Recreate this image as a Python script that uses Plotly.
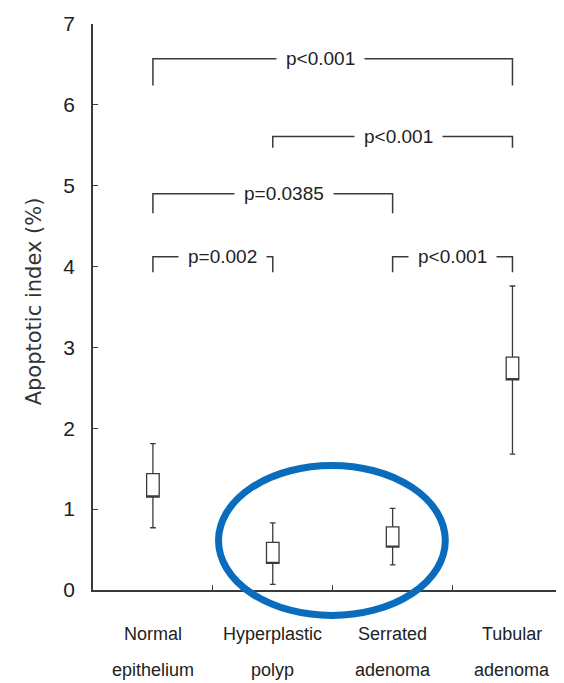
import plotly.graph_objects as go

# ---- data ----
cat_line1 = ["Normal", "Hyperplastic", "Serrated", "Tubular"]
cat_line2 = ["epithelium", "polyp", "adenoma", "adenoma"]
cat_pos = [0.5, 1.5, 2.5, 3.5]
box_low = [1.15, 0.33, 0.53, 2.60]
box_high = [1.44, 0.59, 0.78, 2.88]
whisker_low = [0.77, 0.07, 0.31, 1.68]
whisker_high = [1.81, 0.83, 1.01, 3.76]

# comparisons: (left category index, right category index, bracket height, drop, label)
cmp_left = [0, 1, 0, 0, 2]
cmp_right = [3, 3, 2, 1, 3]
cmp_height = [6.57, 5.61, 4.90, 4.12, 4.12]
cmp_drop = [0.33, 0.14, 0.24, 0.19, 0.19]
cmp_label = ["p<0.001", "p<0.001", "p=0.0385", "p=0.002", "p<0.001"]
cmp_label_x = [1.9, 2.55, 1.59, 1.08, 3.0]

y_ticks = [0, 1, 2, 3, 4, 5, 6, 7]

LINE = "#3a3a3a"
FONT = "Liberation Sans Narrow, Arial Narrow, Liberation Sans, sans-serif"

fig = go.Figure()

fig.add_trace(go.Box(
    x=cat_pos,
    q1=box_low,
    median=box_low,
    q3=box_high,
    lowerfence=whisker_low,
    upperfence=whisker_high,
    width=0.105,
    whiskerwidth=0.45,
    fillcolor="white",
    line=dict(color=LINE, width=1.3),
    boxpoints=False,
    showlegend=False,
))

for i in range(len(cmp_label)):
    xl = cat_pos[cmp_left[i]]
    xr = cat_pos[cmp_right[i]]
    h = cmp_height[i]
    d = cmp_drop[i]
    fig.add_trace(go.Scatter(
        x=[xl, xl, xr, xr],
        y=[h - d, h, h, h - d],
        mode="lines",
        line=dict(color=LINE, width=1.5),
        showlegend=False,
        hoverinfo="skip",
    ))
    fig.add_annotation(
        x=cmp_label_x[i], y=h, xref="x", yref="y",
        text=cmp_label[i], showarrow=False,
        font=dict(family=FONT, size=19, color="#222"),
        bgcolor="white", borderpad=9,
    )

for i in range(len(cat_pos)):
    fig.add_annotation(
        x=cat_pos[i], y=0, xref="x", yref="paper", yanchor="middle",
        yshift=-44, text=cat_line1[i], showarrow=False,
        font=dict(family=FONT, size=18, color="#222"),
    )
    fig.add_annotation(
        x=cat_pos[i], y=0, xref="x", yref="paper", yanchor="middle",
        yshift=-80, text=cat_line2[i], showarrow=False,
        font=dict(family=FONT, size=18, color="#222"),
    )

fig.add_annotation(
    x=0, y=0.51, xref="paper", yref="paper", xshift=-73,
    text="Apoptotic index (%)", textangle=-90, showarrow=False,
    font=dict(family="DejaVu Sans, sans-serif", size=21, color="#333"),
)

# blue highlight ellipse around the hyperplastic polyp and serrated adenoma groups
fig.add_shape(
    type="circle", xref="paper", yref="paper",
    x0=0.2665, x1=0.748, y0=-0.045, y1=0.22,
    line=dict(color="#0a6cbd", width=7),
    layer="above",
)

fig.update_layout(
    width=564, height=683,
    margin=dict(l=85, r=8, t=16, b=101),
    paper_bgcolor="white", plot_bgcolor="white",
    showlegend=False,
)
fig.update_xaxes(
    range=[0, 3.93], showgrid=False, zeroline=False,
    showline=True, linecolor=LINE, linewidth=1.5,
    tickvals=[1, 2, 3], ticktext=["", "", ""],
    ticks="inside", ticklen=5, tickcolor=LINE, tickwidth=1.2,
    automargin=False,
)
fig.update_yaxes(
    range=[0, 7], showgrid=False, zeroline=False,
    showline=True, linecolor=LINE, linewidth=1.5,
    tickvals=y_ticks, ticks="inside", ticklen=5, tickcolor=LINE, tickwidth=1.2,
    tickfont=dict(family=FONT, size=21, color="#222"),
    ticklabelstandoff=12, automargin=False,
)

fig.write_html("out.html")
